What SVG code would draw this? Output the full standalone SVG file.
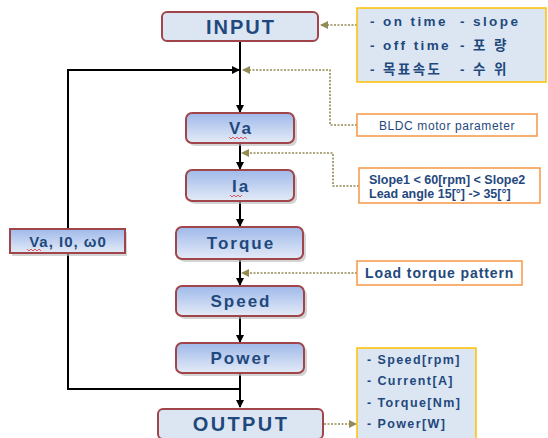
<svg xmlns="http://www.w3.org/2000/svg" width="548" height="438" viewBox="0 0 548 438">
<style>
.node{stroke:#a0454a;stroke-width:2;fill:url(#g)}
.io{stroke:#a0454a;stroke-width:2;fill:#dce6f2}
.sh{fill:#b8b8b8;opacity:0.6}
.t{font-family:"Liberation Sans",Arial,sans-serif;font-weight:bold;fill:#1f497d;text-anchor:middle;font-size:17px;letter-spacing:2px}
.big{font-size:20px}
.n{font-family:"Liberation Sans","Noto Sans CJK KR",Arial,sans-serif;font-weight:bold;fill:#1f497d;font-size:13.5px;letter-spacing:2.4px}
.line{stroke:#000;stroke-width:2;fill:none}
.dot{stroke:#948a54;stroke-width:1.6;stroke-dasharray:2 1.5;fill:none}
.note{fill:#dce6f2;stroke:#ffc000;stroke-width:1.5}
.onote{fill:#fff;stroke:#f79646;stroke-width:1.5}
.wave{stroke:#e03030;stroke-width:0.8;fill:none}
</style>
<defs>
<linearGradient id="g" x1="0" y1="0" x2="0" y2="1">
<stop offset="0" stop-color="#9fb9ea"/>
<stop offset="1" stop-color="#e4ebf7"/>
</linearGradient>
<marker id="a" markerWidth="8" markerHeight="8" refX="7" refY="4" orient="auto" markerUnits="userSpaceOnUse">
<path d="M0,0 L8,4 L0,8 Z" fill="#000"/>
</marker>
<marker id="d" markerWidth="8" markerHeight="8" refX="7" refY="4" orient="auto" markerUnits="userSpaceOnUse">
<path d="M0,0 L8,4 L0,8 Z" fill="#948a54"/>
</marker>
</defs>
<rect width="548" height="438" fill="#fff"/>

<g id="connectors">
<line class="line" x1="240" y1="41" x2="240" y2="112" marker-end="url(#a)"/>
<line class="line" x1="240" y1="143" x2="240" y2="169" marker-end="url(#a)"/>
<line class="line" x1="240" y1="201" x2="240" y2="226" marker-end="url(#a)"/>
<line class="line" x1="240" y1="259" x2="240" y2="285" marker-end="url(#a)"/>
<line class="line" x1="240" y1="316" x2="240" y2="342" marker-end="url(#a)"/>
<line class="line" x1="240" y1="373" x2="240" y2="407" marker-end="url(#a)"/>
<polyline class="line" points="240,389 68,389 68,70 239,70" marker-end="url(#a)"/>
<line class="dot" x1="357" y1="25" x2="321" y2="25" marker-end="url(#d)"/>
<polyline class="dot" points="357,125 330,125 330,70 243,70" marker-end="url(#d)"/>
<polyline class="dot" points="359,186 333,186 333,153 242,153" marker-end="url(#d)"/>
<line class="dot" x1="357" y1="273" x2="242" y2="273" marker-end="url(#d)"/>
<line class="dot" x1="324" y1="424" x2="356" y2="424" marker-end="url(#d)"/>
</g>

<g id="input">
<rect class="io" x="162" y="12" width="156" height="29" rx="5"/>
<text class="t big" x="241" y="34">INPUT</text>
</g>

<g id="input-notes">
<rect class="note" x="357" y="8" width="189" height="74"/>
<text class="n" x="370" y="26">- on time</text>
<text class="n" x="460" y="26">- slope</text>
<text class="n" x="370" y="50">- off time</text>
<text class="n" x="460" y="50">- 포 량</text>
<text class="n" x="370" y="74">- 목표속도</text>
<text class="n" x="460" y="74">- 수 위</text>
</g>

<g id="bldc">
<rect class="onote" x="357" y="114" width="180" height="22"/>
<text x="447" y="130" style="font-family:'Liberation Sans',Arial,sans-serif;font-size:12px;letter-spacing:0.6px" fill="#1f497d" text-anchor="middle">BLDC motor parameter</text>
</g>

<g id="va">
<rect class="sh" x="189" y="116" width="108" height="30" rx="6"/>
<rect class="node" x="186" y="113" width="108" height="30" rx="6"/>
<text class="t" x="241" y="134">Va</text>
<path class="wave" d="M229,137 l2,2 l2,-2 l2,2 l2,-2 l2,2 l2,-2 l2,2 l2,-2 l2,2"/>
</g>

<g id="ia">
<rect class="sh" x="189" y="173" width="108" height="31" rx="6"/>
<rect class="node" x="186" y="170" width="108" height="31" rx="6"/>
<text class="t" x="241" y="192">Ia</text>
<path class="wave" d="M230,195 l2,2 l2,-2 l2,2 l2,-2 l2,2 l2,-2"/>
</g>

<g id="slope">
<rect class="onote" x="359" y="168" width="181" height="35"/>
<text class="n" x="369" y="184" style="font-size:12.5px;letter-spacing:0px">Slope1 &lt; 60[rpm] &lt; Slope2</text>
<text class="n" x="369" y="198" style="font-size:12.5px;letter-spacing:0px">Lead angle 15[°] -&gt; 35[°]</text>
</g>

<g id="torque">
<rect class="sh" x="179" y="230" width="127" height="32" rx="6"/>
<rect class="node" x="176" y="227" width="127" height="32" rx="6"/>
<text class="t" x="241" y="249">Torque</text>
</g>

<g id="feedback">
<rect class="sh" x="12" y="232" width="115" height="24"/>
<rect class="node" x="10" y="229" width="115" height="24"/>
<text class="t" x="68" y="247" style="font-size:15px;letter-spacing:1px">Va, I0, ω0</text>
<path class="wave" d="M27,249 l2,2 l2,-2 l2,2 l2,-2 l2,2 l2,-2 l2,2"/>
</g>

<g id="load">
<rect class="onote" x="357" y="261" width="165" height="24"/>
<text class="n" x="365" y="278" style="font-size:14px;letter-spacing:0.9px">Load torque pattern</text>
</g>

<g id="speed">
<rect class="sh" x="179" y="289" width="128" height="30" rx="6"/>
<rect class="node" x="176" y="286" width="128" height="30" rx="6"/>
<text class="t" x="241" y="307">Speed</text>
</g>

<g id="power">
<rect class="sh" x="179" y="346" width="128" height="30" rx="6"/>
<rect class="node" x="176" y="343" width="128" height="30" rx="6"/>
<text class="t" x="241" y="364">Power</text>
</g>

<g id="output">
<rect class="io" x="158" y="409" width="165" height="30" rx="5"/>
<text class="t big" x="241" y="431" style="letter-spacing:2.4px">OUTPUT</text>
</g>

<g id="output-notes">
<rect class="note" x="357" y="348" width="119" height="92"/>
<text class="n" x="367" y="364" style="font-size:12.5px;letter-spacing:1.4px">- Speed[rpm]</text>
<text class="n" x="367" y="385" style="font-size:12.5px;letter-spacing:1.4px">- Current[A]</text>
<text class="n" x="367" y="407" style="font-size:12.5px;letter-spacing:1.4px">- Torque[Nm]</text>
<text class="n" x="367" y="428" style="font-size:12.5px;letter-spacing:1.4px">- Power[W]</text>
</g>
</svg>
